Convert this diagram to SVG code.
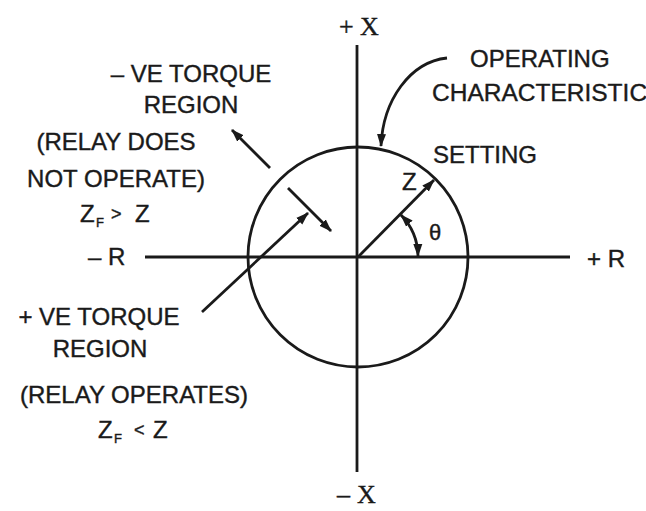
<svg xmlns="http://www.w3.org/2000/svg" width="646" height="511" viewBox="0 0 646 511">
<style>
.t{font-family:"Liberation Sans",Arial,sans-serif;font-size:24px;fill:#1a1a1a;stroke:#1a1a1a;stroke-width:0.4}
.s{font-family:"Liberation Serif","Times New Roman",serif;font-size:26px;fill:#1a1a1a;stroke:#1a1a1a;stroke-width:0.4}
.ln{stroke:#1a1a1a;stroke-width:2.8;fill:none}
</style>
<defs>
<marker id="ah" markerUnits="userSpaceOnUse" markerWidth="14" markerHeight="10" refX="12" refY="5" orient="auto-start-reverse">
<path d="M0,0.5 L13,5 L0,9.5 z" fill="#1a1a1a"/>
</marker>
</defs>
<rect width="646" height="511" fill="#fff"/>
<g id="axes">
<line class="ln" x1="357" y1="45" x2="357" y2="472"/>
<line class="ln" x1="145" y1="257" x2="570" y2="257"/>
</g>
<g id="circle">
<circle class="ln" cx="358" cy="257" r="110"/>
</g>
<g id="connectors">
<line class="ln" x1="358" y1="257" x2="434" y2="180" marker-end="url(#ah)"/>
<path class="ln" d="M401,215 A60,60 0 0 1 418,256" marker-start="url(#ah)" marker-end="url(#ah)"/>
<line class="ln" x1="202" y1="312" x2="308" y2="213" marker-end="url(#ah)"/>
<line class="ln" x1="288" y1="188" x2="331" y2="231" marker-end="url(#ah)"/>
<line class="ln" x1="270" y1="168" x2="232" y2="130" marker-end="url(#ah)"/>
<path class="ln" d="M447,58 C410,62 383,100 381,146" marker-end="url(#ah)"/>
</g>
<g id="axis-labels">
<text class="s" x="339" y="35">+</text><text class="s" x="360" y="35">X</text>
<text class="s" x="337" y="503">–</text><text class="s" x="357" y="503">X</text>
<text class="t" x="88" y="265">– R</text>
<text class="t" x="587" y="267">+ R</text>
</g>
<g id="operating-characteristic">
<text class="t" x="470" y="67">OPERATING</text>
<text class="t" x="432" y="101" style="font-size:24.5px">CHARACTERISTIC</text>
</g>
<g id="setting">
<text class="t" x="433" y="163">SETTING</text>
<text class="t" x="402" y="190">Z</text>
<text class="t" x="429" y="240" style="font-size:22px">θ</text>
</g>
<g id="negative-region">
<text class="t" x="191" y="82" text-anchor="middle">– VE TORQUE</text>
<text class="t" x="191" y="113" text-anchor="middle">REGION</text>
<text class="t" x="116" y="150" text-anchor="middle">(RELAY DOES</text>
<text class="t" x="116" y="187" text-anchor="middle">NOT OPERATE)</text>
<text class="t" x="80" y="222">Z<tspan x="96" y="227" style="font-size:13px">F</tspan><tspan x="111" y="220" style="font-size:18px">&gt;</tspan><tspan x="135" y="222">Z</tspan></text>
</g>
<g id="positive-region">
<text class="t" x="99" y="325" text-anchor="middle">+ VE TORQUE</text>
<text class="t" x="100" y="357" text-anchor="middle">REGION</text>
<text class="t" x="134" y="403" text-anchor="middle">(RELAY OPERATES)</text>
<text class="t" x="98" y="438">Z<tspan x="114" y="443" style="font-size:13px">F</tspan><tspan x="134" y="436" style="font-size:18px">&lt;</tspan><tspan x="153" y="438">Z</tspan></text>
</g>
</svg>
